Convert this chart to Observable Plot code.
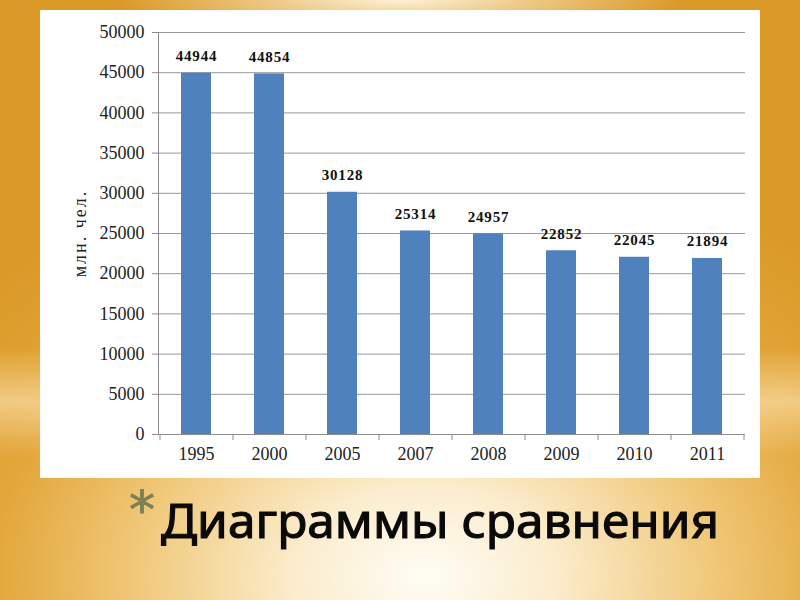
<!DOCTYPE html>
<html>
<head>
<meta charset="utf-8">
<script src="https://cdn.jsdelivr.net/npm/d3@7"></script>
<script src="https://cdn.jsdelivr.net/npm/@observablehq/plot@0.6"></script>
<style>
  html, body { margin: 0; padding: 0; }
  body {
    width: 800px; height: 600px; position: relative; overflow: hidden;
    background:
      radial-gradient(ellipse 35% 6% at 50% 0%, rgba(255,246,225,0.95) 0%, rgba(255,240,210,0) 100%),
      linear-gradient(to bottom, rgba(255,235,190,0) 58%, rgba(255,236,195,0.55) 67%, rgba(255,235,190,0) 76%),
      radial-gradient(ellipse 75% 70% at 53% 96%, #fffdf6 0%, #fbeccc 22%, #f0c879 48%, #e3a63a 72%, #db9a28 100%);
  }
  #panel { position: absolute; left: 40px; top: 10px; width: 720px; height: 468px; background: #fff; }
  #title { position: absolute; left: 0; top: 478px; }
  .vlabel text { letter-spacing: 0.8px; }
  .ylabel text { letter-spacing: 2px; }
</style>
</head>
<body>
<div id="panel"></div>
<svg id="title" width="800" height="122"></svg>
<script>
const years = ["1995", "2000", "2005", "2007", "2008", "2009", "2010", "2011"];
const values = [44944, 44854, 30128, 25314, 24957, 22852, 22045, 21894];
const yTicks = [0, 5000, 10000, 15000, 20000, 25000, 30000, 35000, 40000, 45000, 50000];
const yLabel = "млн. чел.";
const titleText = "Диаграммы сравнения";

const data = years.map((y, i) => ({year: y, value: values[i]}));

const plot = Plot.plot({
  width: 720,
  height: 468,
  marginLeft: 118,
  marginRight: 15,
  marginTop: 22,
  marginBottom: 44,
  style: {fontFamily: "'Liberation Serif', 'Times New Roman', serif", fontSize: "18px", color: "#222", background: "white", overflow: "visible"},
  x: {domain: years, paddingInner: 0.59, paddingOuter: 0.295, label: null},
  y: {domain: [0, 50000], label: null},
  marks: [
    Plot.gridY(yTicks, {stroke: "#8c8c8c", strokeOpacity: 0.9}),
    Plot.barY(data, {x: "year", y: "value", fill: "#4f81bd"}),
    Plot.text(data, {x: "year", y: "value", text: d => String(d.value), dy: -17, fontWeight: "bold", fontSize: 15, fill: "#111", className: "vlabel"}),
    Plot.axisY(yTicks, {tickSize: 6, tickPadding: 8, fontSize: 18, stroke: "#8c8c8c", label: null, tickFormat: d => String(d)}),
    Plot.axisX({tickSize: 0, tickPadding: 13, fontSize: 18, label: null}),
    Plot.ruleY([0], {stroke: "#8c8c8c"}),
    Plot.text([yLabel], {frameAnchor: "left", textAnchor: "middle", rotate: -90, dx: -78, dy: 0, fontSize: 18, fill: "#222", className: "ylabel"})
  ]
});
document.getElementById("panel").appendChild(plot);

// y-axis domain line and category boundary ticks, positioned from Plot's own scales
const xs = plot.scale("x");
const ys = plot.scale("y");
const step = xs.step, bw = xs.bandwidth;
const svg = d3.select(plot);
const y0 = ys.apply(0), yTop = ys.apply(50000);
const g = svg.append("g").attr("stroke", "#8c8c8c").attr("stroke-width", 1);
g.append("line").attr("x1", xs.range[0] + 0.5).attr("x2", xs.range[0] + 0.5).attr("y1", yTop).attr("y2", y0);
const bounds = years.map(y => xs.apply(y) - (step - bw) / 2).concat([xs.apply(years[years.length - 1]) - (step - bw) / 2 + step]);
bounds.forEach(b => {
  g.append("line").attr("x1", b + 0.5).attr("x2", b + 0.5).attr("y1", y0).attr("y2", y0 + 6);
});

// slide title
const t = d3.select("#title");
t.append("text").attr("x", 129).attr("y", 50).attr("font-family", "DejaVu Sans, sans-serif")
  .attr("font-size", 52).attr("fill", "#7e7e58").attr("stroke", "#7e7e58").attr("stroke-width", 0.8).text("*");
t.append("text").attr("x", 161).attr("y", 60).attr("font-family", "'Noto Sans', 'DejaVu Sans', sans-serif")
  .attr("font-size", 48).attr("fill", "#0a0a0a").attr("stroke", "#0a0a0a").attr("stroke-width", 1.1)
  .attr("textLength", 558).attr("lengthAdjust", "spacingAndGlyphs")
  .text(titleText);
</script>
</body>
</html>
